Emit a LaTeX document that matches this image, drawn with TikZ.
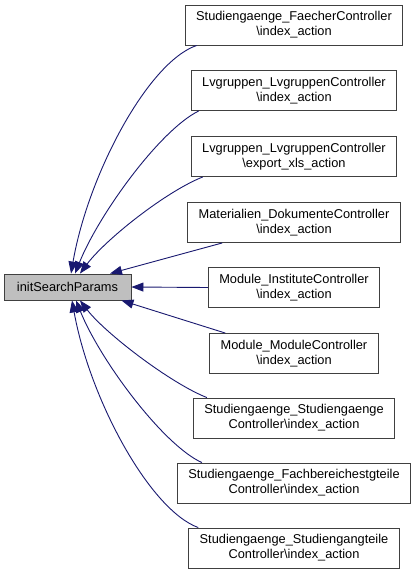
\documentclass[tikz,border=0pt]{standalone}
\usepackage{fontspec}
\setmainfont{Liberation Sans}
\usetikzlibrary{arrows.meta}
\definecolor{edgeblue}{HTML}{191970}
\definecolor{boxborder}{HTML}{404040}
\definecolor{mainfill}{HTML}{BFBFBF}
\begin{document}
\begin{tikzpicture}[x=1pt,y=-1pt,
  font=\fontsize{12.8}{15}\selectfont,
  fnbox/.style={draw=boxborder, line width=0.9pt, fill=white, align=center,
    inner xsep=11pt, inner ysep=0pt, minimum height=40pt},
  mainbox/.style={draw=boxborder, line width=0.9pt, fill=mainfill, inner sep=0pt,
    minimum width=127pt, minimum height=26pt},
  calls/.style={draw=edgeblue, line width=0.9pt, -{Triangle[length=12pt,width=9pt]}}]
\useasboundingbox (0,0) rectangle (419,575);
\fill[white] (0,0) rectangle (419,575);

\node[mainbox] (m) at (67.5,287) {initSearchParams};

\node[fnbox] (b1) at (294,25)    {Studiengaenge\_FaecherController\\\textbackslash index\_action};
\node[fnbox] (b2) at (294,90.5)  {Lvgruppen\_LvgruppenController\\\textbackslash index\_action};
\node[fnbox] (b3) at (294,156.5) {Lvgruppen\_LvgruppenController\\\textbackslash export\_xls\_action};
\node[fnbox] (b4) at (294,222.5) {Materialien\_DokumenteController\\\textbackslash index\_action};
\node[fnbox] (b5) at (294,287.5) {Module\_InstituteController\\\textbackslash index\_action};
\node[fnbox] (b6) at (294,353.5) {Module\_ModuleController\\\textbackslash index\_action};
\node[fnbox] (b7) at (294,418)   {Studiengaenge\_Studiengaenge\\Controller\textbackslash index\_action};
\node[fnbox] (b8) at (294,483)   {Studiengaenge\_Fachbereichestgteile\\Controller\textbackslash index\_action};
\node[fnbox] (b9) at (294,548)   {Studiengaenge\_Studiengangteile\\Controller\textbackslash index\_action};

\draw[calls] ([xshift=12pt]b1.south west) .. controls (148,62) and (88,175) .. ([xshift=3.5pt]m.north);
\draw[calls] ([xshift=8pt]b2.south west) .. controls (160,130) and (99,214) .. ([xshift=7.5pt]m.north);
\draw[calls] ([xshift=12pt]b3.south west) .. controls (165,192) and (105,240) .. ([xshift=12.5pt]m.north);
\draw[calls] ([xshift=35pt]b4.south west) -- ([xshift=42.5pt]m.north);
\draw[calls] (b5.west) -- (m.east);
\draw[calls] ([xshift=16pt]b6.north west) -- ([xshift=-10pt]m.south east);
\draw[calls] ([xshift=14pt]b7.north west) .. controls (170,383) and (105,333) .. ([xshift=12.5pt]m.south);
\draw[calls] ([xshift=25pt]b8.north west) .. controls (163,445) and (100,360) .. ([xshift=8.5pt]m.south);
\draw[calls] ([xshift=10pt]b9.north west) .. controls (150,510) and (90,400) .. ([xshift=4.5pt]m.south);
\end{tikzpicture}
\end{document}
